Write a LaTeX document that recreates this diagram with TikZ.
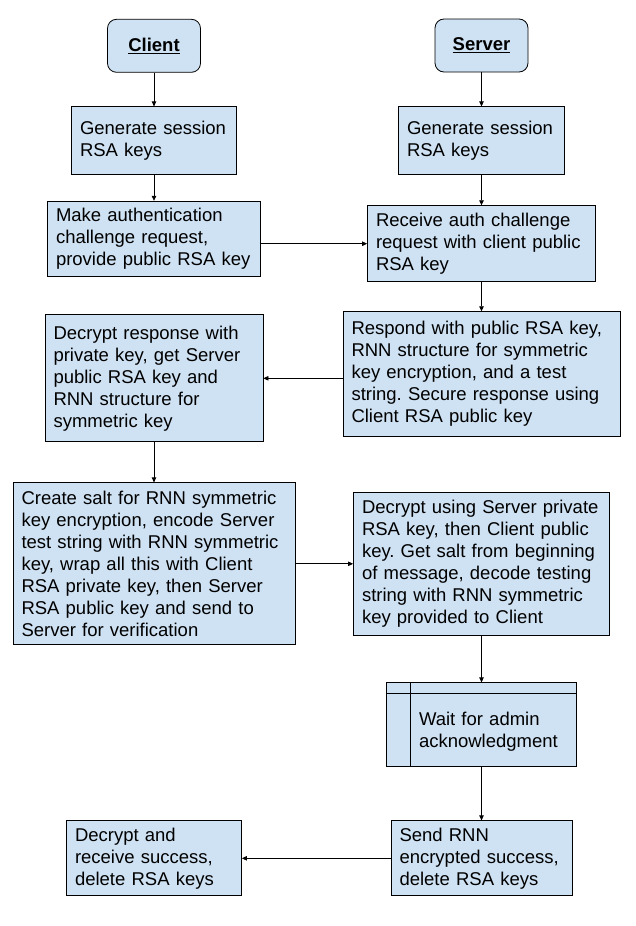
\documentclass[tikz,border=0pt]{standalone}
\usepackage{fontspec}
\setmainfont{Liberation Sans}
\usetikzlibrary{arrows.meta}
\definecolor{boxblue}{HTML}{CFE2F3}

\begin{document}
\begin{tikzpicture}[x=1pt,y=-1pt,every node/.style={font=\fontsize{18.5}{22}\selectfont},
  execute at begin node=\frenchspacing,
  box/.style 2 args={draw,fill=boxblue,line width=0.8pt,inner xsep=8.5pt,inner ysep=0pt,align=left,
    minimum width=#1pt,minimum height=#2pt,text width=#1pt-17pt},
  head/.style={box={93}{53},rounded corners=9pt,align=center},
  waitbox/.style={box={190}{84},path picture={
    \draw[line width=0.8pt] ([yshift=-10.7pt]path picture bounding box.north west) -- ([yshift=-10.7pt]path picture bounding box.north east);
    \draw[line width=0.8pt] ([xshift=24pt]path picture bounding box.north west) -- ([xshift=24pt]path picture bounding box.south west);}},
  link/.style={-{Triangle[length=5pt,width=4.5pt]},line width=0.7pt}]
\useasboundingbox (0,0) rectangle (636,926);
% client side
\node[head] (client) at (154,45.8) {\underline{\textbf{Client}}};
\node[box={165}{68}] (genC) at (154,140.8) {Generate session\\RSA keys};
\node[box={213}{75}] (req) at (154,238.7) {Make authentication\\challenge request,\\provide public RSA~key};
\node[box={218}{127}] (decr) at (154,378.3) {Decrypt response with\\private key, get Server\\public RSA key and\\RNN structure for\\symmetric key};
\node[box={282}{162}] (salt) at (154,563.8) {Create salt for RNN symmetric\\key encryption, encode Server\\test string with RNN symmetric\\key, wrap all this with Client\\RSA private key, then Server\\RSA public key and send to\\Server for verification};
\node[box={175}{75}] (fin) at (154,858.3) {Decrypt and\\receive success,\\delete RSA keys};
% server side
\node[head] (server) at (481.5,45.5) {\underline{\textbf{Server}}};
\node[box={166}{68}] (genS) at (481.5,140.8) {Generate session\\RSA keys};
\node[box={228}{76}] (recv) at (481.5,243.7) {Receive auth challenge\\request with client public\\RSA key};
\node[box={277}{125}] (resp) at (481.5,374.2) {Respond with public RSA key,\\RNN structure for symmetric\\key encryption, and a test\\string. Secure response using\\Client RSA public key};
\node[box={256}{143}] (decS) at (481.5,563.7) {Decrypt using Server private\\RSA key, then Client public\\key. Get salt from beginning\\of message, decode testing\\string with RNN symmetric\\key provided to Client};
\node[waitbox] (wait) at (481.5,724.8) {\rule{0pt}{27pt}\hspace*{24pt}Wait for admin\\\hspace*{24pt}acknowledgment};
\node[box={181}{75}] (send) at (481.5,858.3) {Send RNN\\encrypted success,\\delete RSA keys};
% connectors
\draw[link] (client) -- (genC); \draw[link] (genC) -- (req);
\draw[link] (server) -- (genS); \draw[link] (genS) -- (recv);
\draw[link] (req.east |- recv.west) -- (recv.west);
\draw[link] (recv) -- (resp);
\draw[link] (resp.west |- decr.east) -- (decr.east);
\draw[link] (decr) -- (salt);
\draw[link] (salt.east) -- (salt.east -| decS.west);
\draw[link] (decS) -- (wait); \draw[link] (wait) -- (send);
\draw[link] (send.west) -- (send.west -| fin.east);
\end{tikzpicture}
\end{document}
